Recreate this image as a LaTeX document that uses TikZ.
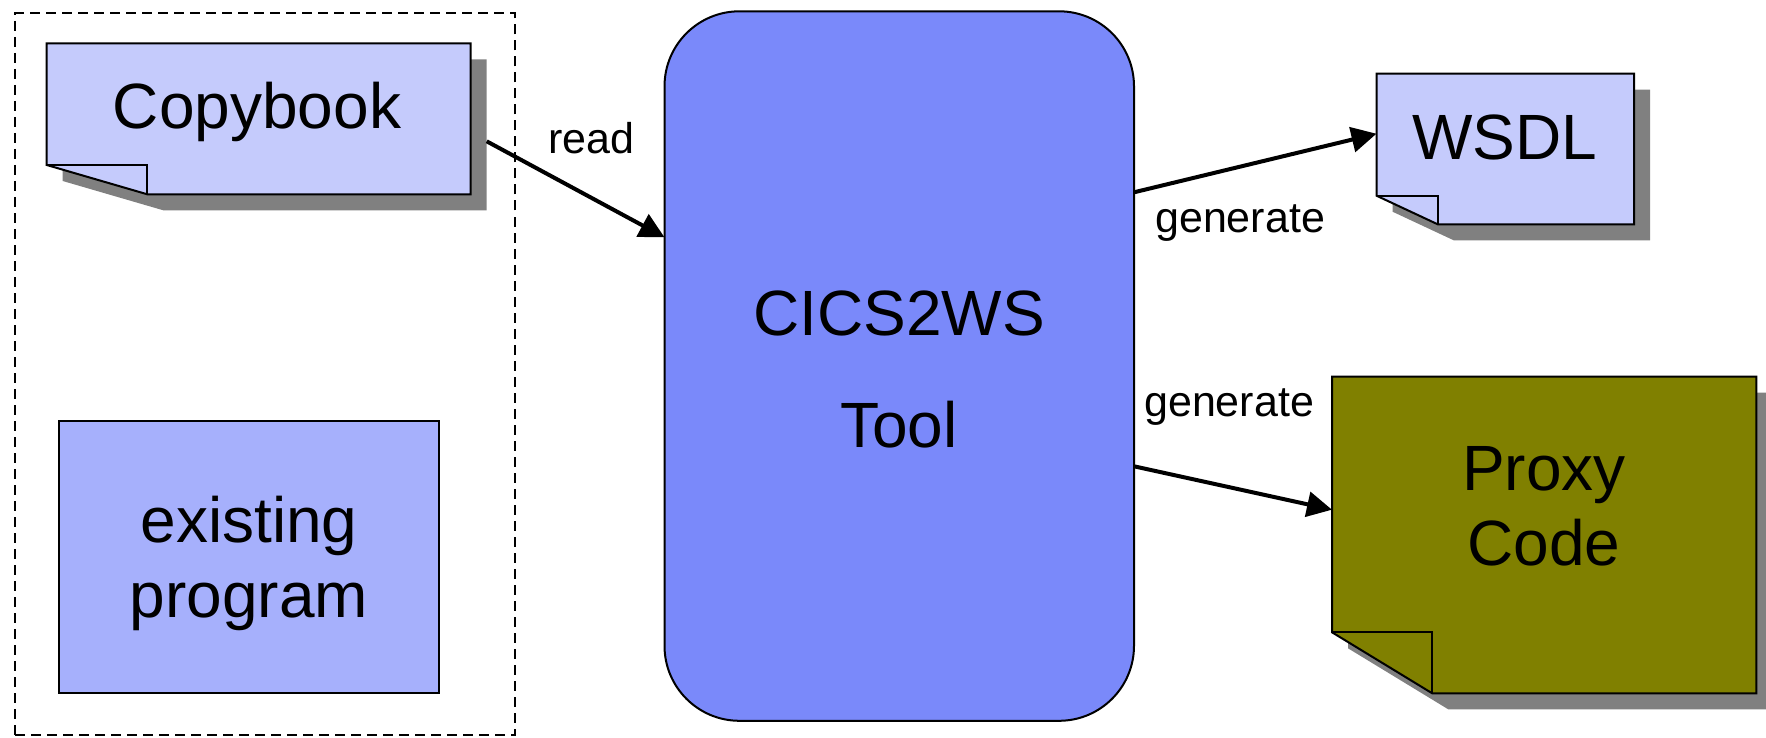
\documentclass[tikz,border=0pt]{standalone}
\usepackage{fontspec}
\setmainfont{Liberation Sans}
\usetikzlibrary{arrows.meta}
\definecolor{doclight}{RGB}{197,203,252}
\definecolor{progfill}{RGB}{166,176,252}
\definecolor{toolfill}{RGB}{122,137,250}
\definecolor{proxyfill}{RGB}{128,128,0}
\definecolor{shadowgray}{RGB}{128,128,128}
\newcommand\bigtext{\fontsize{64}{75}\selectfont}
\newcommand\tooltext{\fontsize{64}{112}\selectfont}
\newcommand\lbltext{\fontsize{43}{50}\selectfont}
\newcommand\docshape[8]{%
  \fill[shadowgray] ({#2+16},{#3+16}) -- ({#4+16},{#3+16}) -- ({#4+16},{#5+16}) -- ({#6+16},{#5+16}) -- ({#2+16},{#7+16}) -- cycle;
  \node[docframe, minimum width={(#4-#2)*1pt}, minimum height={(#5-#3)*1pt}, anchor=north west] (#1) at (#2,#3) {};
  \filldraw[fill=#8, outline] (#1.north west) -- (#1.north east) -- (#1.south east) -- (#6,#5) -- (#2,#7) -- cycle;
  \draw[outline] (#2,#7) -- (#6,#7) -- (#6,#5);
}
\begin{document}
\begin{tikzpicture}[x=1pt,y=-1pt,
  outline/.style={draw=black, line width=2pt, line join=miter},
  docframe/.style={inner sep=0pt, outer sep=0pt, draw=none},
  groupbox/.style={draw=black, line width=2pt, dash pattern=on 10pt off 6pt, inner sep=0pt, outer sep=0pt},
  progbox/.style={outline, fill=progfill, inner sep=0pt, outer sep=0pt},
  toolbox/.style={outline, fill=toolfill, rounded corners=75pt, inner sep=0pt, outer sep=0pt},
  bigtxt/.style={font=\bigtext, inner sep=0pt, anchor=base},
  lbl/.style={font=\lbltext, inner sep=0pt, anchor=base west},
  flow/.style={line width=4pt, -{Triangle[length=25pt,width=25pt]}}
]
\useasboundingbox (0,0) rectangle (1766,738);

% group box
\node[groupbox, minimum width=499.5pt, minimum height=721.5pt, anchor=north west] (group) at (15,13.5) {};

% Copybook document
\docshape{copy}{46.7}{43.3}{470.7}{194.3}{147.3}{165}{doclight}
\node[bigtxt] (copytxt) at (257,129) {Copybook};

% existing program
\node[progbox, minimum width=379.7pt, minimum height=272pt, anchor=north west] (prog) at (59.3,420.7) {};
\node[bigtxt] (progtxt) at (249,542.7) {\begin{tabular}[t]{@{}c@{}}existing\\program\end{tabular}};

% tool
\node[toolbox, minimum width=469.5pt, minimum height=709.5pt, anchor=north west] (tool) at (664.5,11.3) {};
\node[bigtxt, font=\tooltext] (tooltxt) at (899,335) {\begin{tabular}[t]{@{}c@{}}CICS2WS\\Tool\end{tabular}};

% WSDL document
\docshape{wsdl}{1376.5}{73.7}{1634}{224.3}{1437.7}{195.7}{doclight}
\node[bigtxt] (wsdltxt) at (1505,159.3) {WSDL};

% Proxy code document
\docshape{proxy}{1332}{376.7}{1756.3}{693.3}{1432.2}{632.3}{proxyfill}
\node[bigtxt] (proxytxt) at (1544,490) {\begin{tabular}[t]{@{}c@{}}Proxy\\Code\end{tabular}};

% connectors
\draw[flow] ([xshift=16pt,yshift=-98pt]copy.north east) -- ([yshift=-226pt]tool.north west);
\draw[flow] ([yshift=-181pt]tool.north east) -- ([yshift=-60pt]wsdl.north west);
\draw[flow] ([yshift=-455pt]tool.north east) -- ([yshift=-133pt]proxy.north west);

% labels
\node[lbl] (readlbl) at (548,154) {read};
\node[lbl] (gen1lbl) at (1155,232) {generate};
\node[lbl] (gen2lbl) at (1144,416) {generate};
\end{tikzpicture}
\end{document}
